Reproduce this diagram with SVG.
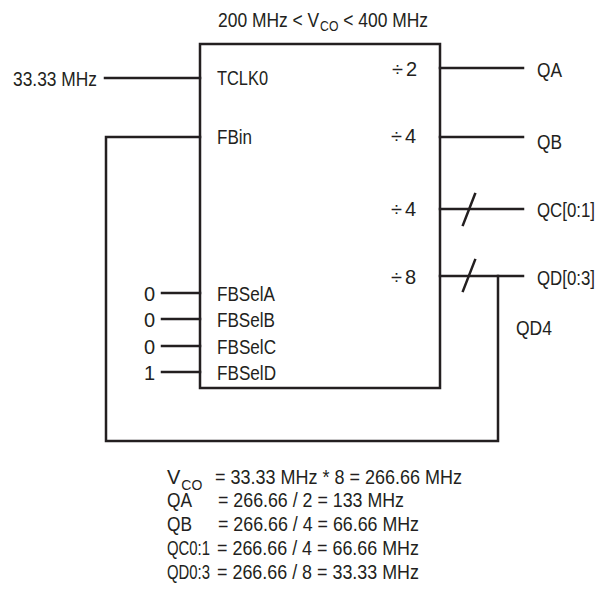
<svg xmlns="http://www.w3.org/2000/svg" width="605" height="592" viewBox="0 0 605 592">
<style>
text{font-family:"Liberation Sans",Arial,sans-serif;font-size:20px;fill:#231f20}
.ln{stroke:#231f20;stroke-width:2.5;fill:none;stroke-linecap:square}
.end{text-anchor:end}
</style>
<rect width="605" height="592" fill="#fff"/>
<text x="218" y="27" textLength="210" lengthAdjust="spacingAndGlyphs">200 MHz &lt; V<tspan font-size="14" dx="1" dy="4">CO</tspan><tspan dy="-4"> &lt; 400 MHz</tspan></text>
<g id="pll">
<rect class="ln" x="200" y="44" width="240" height="344"/>
<text x="217" y="85" textLength="51" lengthAdjust="spacingAndGlyphs">TCLK0</text>
<text x="217" y="144" textLength="35" lengthAdjust="spacingAndGlyphs">FBin</text>
<text x="217" y="301" textLength="58" lengthAdjust="spacingAndGlyphs">FBSelA</text>
<text x="217" y="327" textLength="58" lengthAdjust="spacingAndGlyphs">FBSelB</text>
<text x="217" y="354" textLength="59" lengthAdjust="spacingAndGlyphs">FBSelC</text>
<text x="217" y="380" textLength="59" lengthAdjust="spacingAndGlyphs">FBSelD</text>
<text x="392" y="76">÷<tspan dx="3">2</tspan></text>
<text x="391" y="143">÷<tspan dx="3">4</tspan></text>
<text x="391" y="216">÷<tspan dx="3">4</tspan></text>
<text x="391" y="284">÷<tspan dx="3">8</tspan></text>
</g>
<g id="inputs">
<text x="13" y="86" textLength="84" lengthAdjust="spacingAndGlyphs">33.33 MHz</text>
<text class="end" x="155" y="301">0</text>
<text class="end" x="155" y="327">0</text>
<text class="end" x="155" y="354">0</text>
<text class="end" x="155" y="380">1</text>
</g>
<g id="outputs">
<text x="537" y="77" textLength="25" lengthAdjust="spacingAndGlyphs">QA</text>
<text x="537" y="149" textLength="25" lengthAdjust="spacingAndGlyphs">QB</text>
<text x="537" y="217" textLength="58" lengthAdjust="spacingAndGlyphs">QC[0:1]</text>
<text x="537" y="285" textLength="58" lengthAdjust="spacingAndGlyphs">QD[0:3]</text>
<text x="516" y="335" textLength="36" lengthAdjust="spacingAndGlyphs">QD4</text>
</g>
<g id="connectors">
<path class="ln" d="M105 78H200"/>
<path class="ln" d="M200 137H106V441H498V276"/>
<path class="ln" d="M162 293H200M162 319H200M162 346H200M162 372H200"/>
<path class="ln" d="M440 68H523M440 137H523M440 209H523M440 276H523"/>
<path class="ln" d="M463 225L475 194M463 291L475 260"/>
</g>
<g id="equations">
<text x="167" y="484">V<tspan font-size="14" dx="1" dy="6">CO</tspan><tspan x="215" y="484" textLength="247" lengthAdjust="spacingAndGlyphs">= 33.33 MHz * 8 = 266.66 MHz</tspan></text>
<text x="167" y="507"><tspan textLength="25" lengthAdjust="spacingAndGlyphs">QA</tspan><tspan x="218" textLength="186" lengthAdjust="spacingAndGlyphs">= 266.66 / 2 = 133 MHz</tspan></text>
<text x="167" y="531"><tspan textLength="25" lengthAdjust="spacingAndGlyphs">QB</tspan><tspan x="218" textLength="201" lengthAdjust="spacingAndGlyphs">= 266.66 / 4 = 66.66 MHz</tspan></text>
<text x="167" y="555"><tspan textLength="43" lengthAdjust="spacingAndGlyphs">QC0:1</tspan><tspan x="217" textLength="202" lengthAdjust="spacingAndGlyphs">= 266.66 / 4 = 66.66 MHz</tspan></text>
<text x="167" y="579"><tspan textLength="43" lengthAdjust="spacingAndGlyphs">QD0:3</tspan><tspan x="217" textLength="202" lengthAdjust="spacingAndGlyphs">= 266.66 / 8 = 33.33 MHz</tspan></text>
</g>
</svg>
